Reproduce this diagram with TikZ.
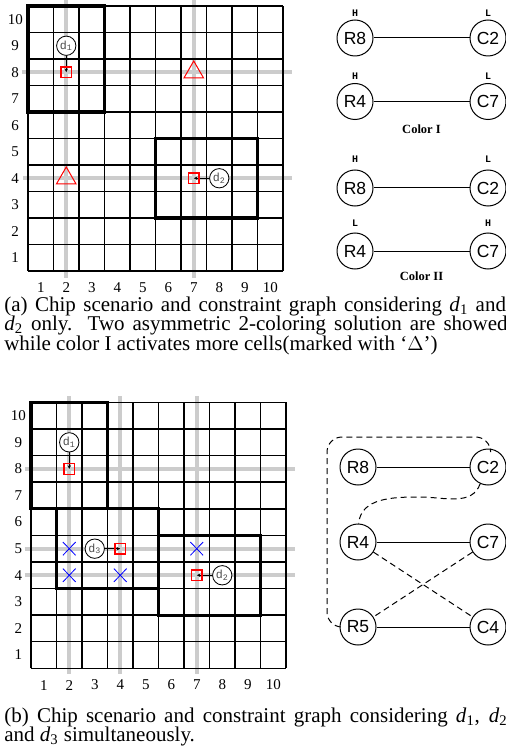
\documentclass[tikz,border=0pt]{standalone}
\usepackage{fontspec}
\setmainfont{Liberation Serif}
\newfontfamily\gsans{Liberation Sans}
\newfontfamily\gmono{Liberation Mono}
\usetikzlibrary{shapes.geometric,arrows.meta}
\begin{document}
\begin{tikzpicture}[x=0.6pt,y=-0.6pt,
  gridln/.style={line width=0.9pt},
  thickbox/.style={line width=1.9pt},
  grayln/.style={line width=2.6pt,color=black!20},
  redsq/.style={draw=red,line width=0.75pt,minimum size=6.3pt,inner sep=0pt},
  dnode/.style={circle,draw,line width=0.5pt,minimum size=11.6pt,inner sep=0pt,fill=white,font=\gmono\fontsize{7}{7}\selectfont,text=black!70},
  darrow/.style={line width=0.5pt,-{Stealth[length=2.2pt,width=2pt]}},
  redtri/.style={regular polygon,regular polygon sides=3,draw=red,line width=0.6pt,minimum size=13.5pt,inner sep=0pt},
  bluex/.style={draw=blue,line width=0.5pt},
  gnode/.style={circle,draw,line width=0.6pt,minimum size=21.6pt,inner sep=0pt,font=\gsans\fontsize{10.5}{10.5}\selectfont},
  hl/.style={font=\gmono\bfseries\fontsize{6}{6}\selectfont},
  colorlab/.style={font=\bfseries\fontsize{7.5}{7.5}\selectfont},
  glink/.style={line width=0.6pt},
  gdash/.style={line width=0.6pt,dash pattern=on 3.6pt off 2.4pt},
  numlab/.style={font=\fontsize{9}{9}\selectfont},
  capline/.style={anchor=base west,inner sep=0pt,font=\fontsize{12.6}{12.6}\selectfont}
]
\useasboundingbox (0,0) rectangle (505,755);

% ================= top grid =================
\begin{scope}[shift={(28,271)},x=15.3pt,y=15.9pt]
  \draw[grayln] (1.5,-0.25) -- (1.5,10.25);
  \draw[grayln] (6.5,-0.25) -- (6.5,10.25);
  \draw[grayln] (-0.25,7.5) -- (10.35,7.5);
  \draw[grayln] (-0.2,3.5) -- (10.35,3.5);
  \draw[gridln,step=1] (0,0) grid (10,10);
  \draw[thickbox] (0,6) rectangle (3,10);
  \draw[thickbox] (5,2) rectangle (9,5);
  \foreach \i in {1,...,10} {
    \node[numlab] at (\i-0.5,-0.63) {\i};
    \node[numlab] at (-0.5,\i-0.5) {\i};
  }
  \coordinate (pA1) at (1.5,7.5);
  \coordinate (pA2) at (6.5,3.5);
  \node[dnode] (dA1) at (1.5,8.5) {d\textsubscript{1}};
  \draw[darrow] (dA1) -- (pA1);
  \node[redsq] (sqA1) at (pA1) {};
  \node[dnode] (dA2) at (7.5,3.5) {d\textsubscript{2}};
  \draw[darrow] (dA2) -- (pA2);
  \node[redsq] (sqA2) at (pA2) {};
  \node[redtri] (triA1) at (6.5,7.5) {};
  \node[redtri] (triA2) at (1.5,3.5) {};
\end{scope}

% ================= top graphs =================
\node[gnode] (a1R8) at (355,38) {R8};
\node[gnode] (a1C2) at (488,38) {C2};
\node[gnode] (a1R4) at (355,101.5) {R4};
\node[gnode] (a1C7) at (488,101.5) {C7};
\draw[glink] (a1R8) -- (a1C2);
\draw[glink] (a1R4) -- (a1C7);
\node[hl] (h1) at (355,13) {H};
\node[hl] (h2) at (488,13) {L};
\node[hl] (h3) at (355,76) {H};
\node[hl] (h4) at (488,76) {L};
\node[colorlab] (cI) at (421.5,129.5) {Color I};

\node[gnode] (a2R8) at (355,188) {R8};
\node[gnode] (a2C2) at (488,188) {C2};
\node[gnode] (a2R4) at (355,251) {R4};
\node[gnode] (a2C7) at (488,251) {C7};
\draw[glink] (a2R8) -- (a2C2);
\draw[glink] (a2R4) -- (a2C7);
\node[hl] (h5) at (355,159) {H};
\node[hl] (h6) at (488,159) {L};
\node[hl] (h7) at (355,223) {L};
\node[hl] (h8) at (488,223) {H};
\node[colorlab] (cII) at (421.5,276) {Color II};

% ================= caption (a) =================
\node[capline] (capa1) at (4,311) {\makebox[301pt][s]{(a) Chip scenario and constraint graph considering \textit{d}\textsubscript{1} and}};
\node[capline] (capa2) at (4,330.5) {\makebox[302pt][s]{\textit{d}\textsubscript{2} only. Two asymmetric 2-coloring solution are showed}};
\node[capline] (capa3) at (4,350) {while color I activates more cells(marked with `$\Delta$')};

% ================= bottom grid =================
\begin{scope}[shift={(31,668.3)},x=15.3pt,y=15.95pt]
  \draw[grayln] (1.5,-0.2) -- (1.5,10.25);
  \draw[grayln] (3.5,-0.2) -- (3.5,10.25);
  \draw[grayln] (6.5,-0.2) -- (6.5,10.25);
  \draw[grayln] (-0.25,7.5) -- (10.35,7.5);
  \draw[grayln] (-0.25,4.5) -- (10.35,4.5);
  \draw[grayln] (-0.25,3.5) -- (10.35,3.5);
  \draw[gridln,step=1] (0,0) grid (10,10);
  \draw[thickbox] (0,6) rectangle (3,10);
  \draw[thickbox] (1,3) rectangle (5,6);
  \draw[thickbox] (5,2) rectangle (9,5);
  \foreach \i in {1,...,10} {
    \node[numlab] at (\i-0.5,-0.63) {\i};
    \node[numlab] at (-0.5,\i-0.5) {\i};
  }
  \foreach \cx/\cy in {1.5/4.5,1.5/3.5,3.5/3.5,6.5/4.5} {
    \draw[bluex] (\cx-0.25,\cy-0.25) -- (\cx+0.25,\cy+0.25);
    \draw[bluex] (\cx-0.25,\cy+0.25) -- (\cx+0.25,\cy-0.25);
  }
  \coordinate (pB1) at (1.5,7.5);
  \coordinate (pB2) at (6.5,3.5);
  \coordinate (pB3) at (3.5,4.5);
  \node[dnode] (dB1) at (1.5,8.5) {d\textsubscript{1}};
  \draw[darrow] (dB1) -- (pB1);
  \node[redsq] (sqB1) at (pB1) {};
  \node[dnode] (dB2) at (7.5,3.5) {d\textsubscript{2}};
  \draw[darrow] (dB2) -- (pB2);
  \node[redsq] (sqB2) at (pB2) {};
  \node[dnode] (dB3) at (2.5,4.5) {d\textsubscript{3}};
  \draw[darrow] (dB3) -- (pB3);
  \node[redsq] (sqB3) at (pB3) {};
\end{scope}

% ================= bottom graph =================
\node[gnode] (bR8) at (358,467) {R8};
\node[gnode] (bC2) at (488,467) {C2};
\node[gnode] (bR4) at (358,542) {R4};
\node[gnode] (bC7) at (488,542) {C7};
\node[gnode] (bR5) at (358,627) {R5};
\node[gnode] (bC4) at (488,627) {C4};
\draw[glink] (bR8) -- (bC2);
\draw[glink] (bR4) -- (bC7);
\draw[glink] (bR5) -- (bC4);
\draw[gdash] (bR4) -- (bC4);
\draw[gdash] (bC7) -- (bR5);
\coordinate (cmid) at (420,497);
\draw[gdash] (bC2.-115) to[out=-110,in=0] (cmid) to[out=180,in=85] (bR4.88);
\coordinate (loopTL) at (327,437);
\draw[gdash,rounded corners=9pt] (bC2.82) |- (loopTL) |- (bR5.west);

% ================= caption (b) =================
\node[capline] (capb1) at (4,722) {\makebox[302pt][s]{(b) Chip scenario and constraint graph considering \textit{d}\textsubscript{1}, \textit{d}\textsubscript{2}}};
\node[capline] (capb2) at (4,741) {and \textit{d}\textsubscript{3} simultaneously.};
\end{tikzpicture}
\end{document}
